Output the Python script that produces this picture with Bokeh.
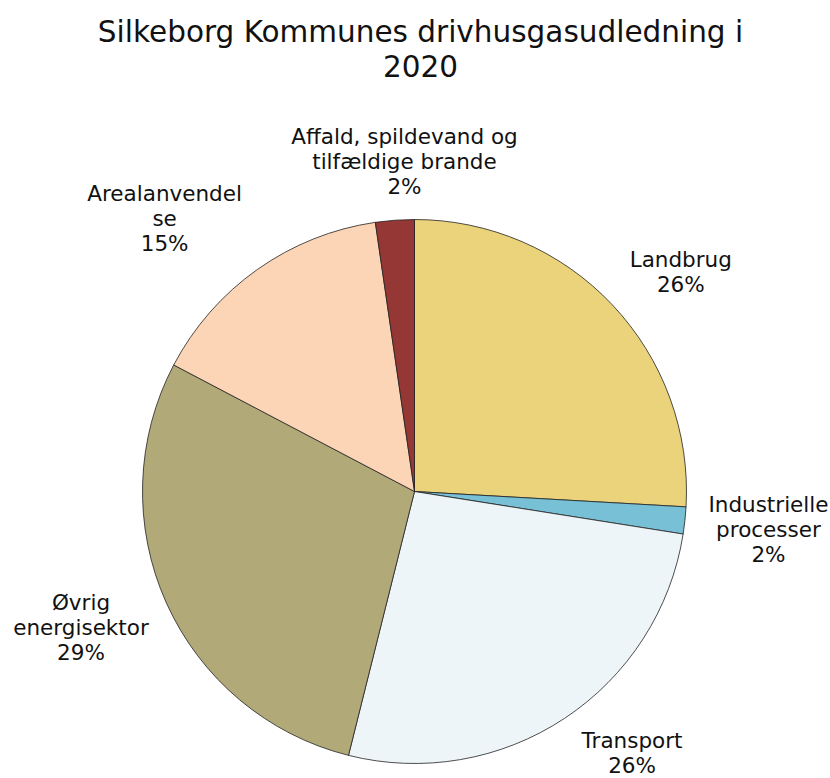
import math
from bokeh.plotting import figure
from bokeh.models import Range1d, ColumnDataSource
from bokeh.core.properties import value
from bokeh.embed import file_html
from bokeh.resources import INLINE

# ---- data ----
categories = ["Landbrug", "Industrielle processer", "Transport",
              "Øvrig energisektor", "Arealanvendelse",
              "Affald, spildevand og tilfældige brande"]
label_names = ["Landbrug", "Industrielle\nprocesser", "Transport",
               "Øvrig\nenergisektor", "Arealanvendel\nse",
               "Affald, spildevand og\ntilfældige brande"]
shares = [25.9, 1.6, 26.4, 28.8, 15.0, 2.3]
colors = ["#EBD37B", "#77C0D5", "#EDF5F8", "#B2A978", "#FBD5B5", "#943735"]
title_text = "Silkeborg Kommunes drivhusgasudledning i\n2020"

# ---- layout ----
W, H = 830, 778
cx, cy = 414, H - 491
R = 272
# per-label (angle adjustment in degrees, distance from centre)
label_adj = [(-3.9, 345), (0.0, 356), (6.3, 340), (-2.0, 360), (7.2, 370), (-2.4, 330)]

total = sum(shares)
starts, ends, lx, ly, texts = [], [], [], [], []
cum = 0.0
for i, s in enumerate(shares):
    a0 = math.pi / 2 - 2 * math.pi * (cum + s) / total
    a1 = math.pi / 2 - 2 * math.pi * cum / total
    starts.append(a0)
    ends.append(a1)
    mid = (a0 + a1) / 2 + math.radians(label_adj[i][0])
    d = label_adj[i][1]
    lx.append(cx + d * math.cos(mid))
    ly.append(cy + d * math.sin(mid))
    texts.append(f"{label_names[i]}\n{round(100 * s / total)}%")
    cum += s

src = ColumnDataSource(dict(start=starts, end=ends, color=colors, cat=categories))
lsrc = ColumnDataSource(dict(x=lx, y=ly, t=texts))

p = figure(width=W, height=H, x_range=Range1d(0, W), y_range=Range1d(0, H),
           output_backend="svg", toolbar_location=None, min_border=0,
           background_fill_color="white", border_fill_color="white")
p.axis.visible = False
p.grid.visible = False
p.outline_line_color = None

p.wedge(x=cx, y=cy, radius=R, start_angle="start", end_angle="end",
        fill_color="color", line_color="#222222", line_width=0.8, source=src)

p.text(x="x", y="y", text="t", source=lsrc, text_align="center",
       text_baseline="middle", text_font=value("DejaVu Sans"),
       text_font_size="21.5px", text_color="#111111", text_line_height=1.0)

p.text(x=[W / 2 + 5], y=[H - 49], text=[title_text], text_align="center",
       text_baseline="middle", text_font=value("DejaVu Sans"),
       text_font_size="29.5px", text_color="#111111", text_line_height=1.05)

open("out.html", "w").write(file_html(p, INLINE))
